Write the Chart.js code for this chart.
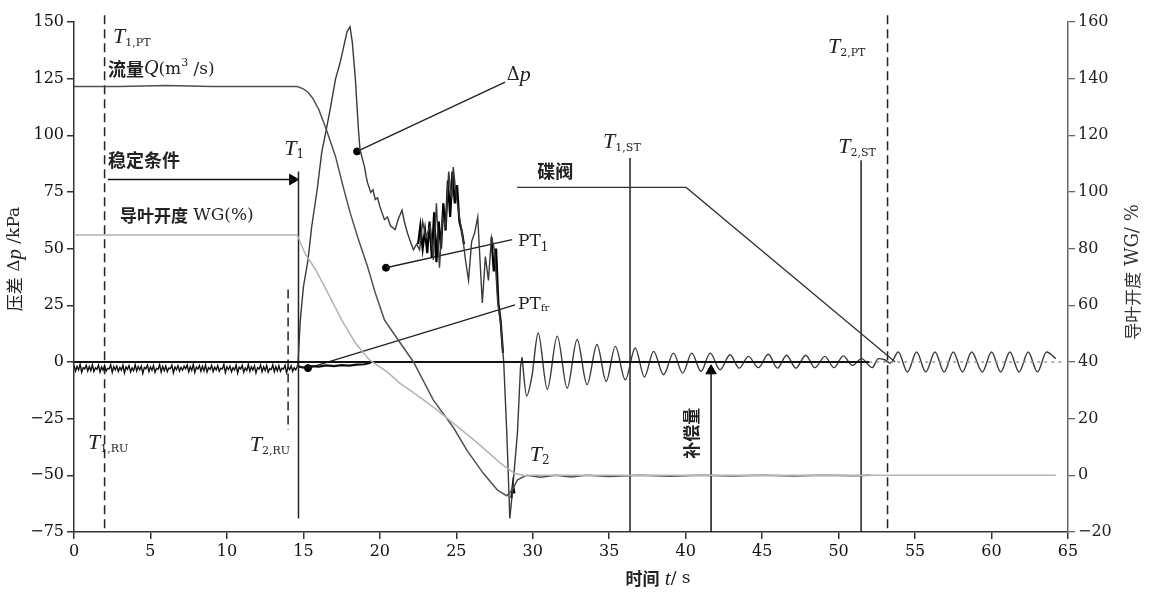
<!DOCTYPE html>
<html><head><meta charset="utf-8">
<style>html,body{margin:0;padding:0;background:#fff}#wrap{width:1153px;height:593px}</style>
</head><body><div id="wrap"><canvas id="c" width="1153" height="593"></canvas></div>
<script src="https://cdn.jsdelivr.net/npm/chart.js@4/dist/chart.umd.min.js"></script>
<script>
// ---------------- data ----------------
// Flow Q (drawn on left scale units)
const qT = [0,3,6,9,12,14.6,15.0,15.3,15.6,16.0,16.5,17.1,17.6,18.05,18.6,19.2,19.7,20.3,21.2,22.2,23.5,24.8,25.7,26.75,27.7,28.3,28.7,29.0,29.6,30.5,31.5,32.5,33.5,35,37,39,41,43,45,47,49,51,52.1];
const qV = [121.5,121.5,122,121.5,121.5,121.5,120.5,119,116.5,111.5,102.6,90.7,77.4,66,54,42,30.5,18.6,9.7,0,-16.8,-28.8,-39,-49,-56.6,-59,-56,-52,-50,-50.8,-50,-50.7,-50,-50.5,-50,-50.4,-50,-50.3,-50,-50.3,-50,-50.2,-50];
// Guide vane opening WG
const wgT = [0,5,10,14.6,15.1,15.8,16.6,17.5,18.4,19.3,20.5,21.3,22.2,23.5,24.8,26.4,27.9,28.8,29.5,30,35,40,45,50,55,60,64.2];
const wgV = [56,56,56,56,48,40.7,30.5,18.6,8.4,1,-4.5,-9.3,-13.5,-19.9,-27,-35.8,-44.7,-49.1,-50.2,-50,-50,-50,-50,-50,-50,-50,-50];
// Delta p, transient part
const dpT1 = [14.6,14.65,14.8,15.0,15.3,15.55,15.9,16.2,16.5,16.75,17.1,17.4,17.85,18.05,18.2,18.4,18.6,18.7,19.0,19.1,19.2,19.4,19.55,19.7,19.85,20.0,20.3,20.5,20.7,21.0,21.2,21.45,21.6,21.8,22.0,22.2,22.4,22.6,22.8,23.0,23.3,23.5,23.7,23.9,24.1,24.3,24.5,24.7,24.8,25.0,25.2,25.4,25.6,25.8,26.0,26.2,26.4,26.55,26.7,26.9,27.1,27.3,27.5,27.7,27.9,28.1,28.3,28.5,28.7,29.0,29.2,29.3];
const dpV1 = [-2,0,18.6,33,45,60,76,92.5,102.6,111.5,124.8,132,145.6,148,141,124.8,102.6,93.8,86,82,79,74.8,76,71.7,72.5,68.6,62.8,64,60,58.4,63,67,62,57,53,49.5,52,49.5,62,55,60,45,70,41.6,64,60,84,72,86,73,64,56,45,36,53,57,64,45,26,46.5,36,55,49.5,27,17,0,-31,-69,-55,-31,-2,2];
// Delta p, oscillation part
const dpT2 = [29.3,29.6,29.95,30.35,30.95,31.6,32.25,32.9,33.55,34.2,34.8,35.4,36.05,36.7,37.3,37.9,38.55,39.2,39.8,40.4,41.0,41.6,42.25,42.9,43.5,44.1,44.75,45.4,46.0,46.6,47.2,47.85,48.45,49.1,49.7,50.3,50.9,51.5,52.2,52.6,53.0,53.4,53.9,54.5,55.1,55.7,56.3,56.9,57.5,58.1,58.7,59.4,60.0,60.6,61.2,61.8,62.4,63.0,63.6,64.2];
const dpV2 = [2,-15,-6,12.8,-12,11.4,-11.5,9.9,-10,7.7,-8.5,6.9,-7.8,6.2,-6.6,4.7,-5.6,3.9,-4.9,3.9,-4.1,3.9,-3.4,3.2,-2.7,2.5,-2.5,3.4,-2.7,3.0,-2.7,3.0,-2.5,2.5,-2.5,2.7,-1.5,1.5,-2.5,1.5,1.0,-0.5,4.4,-4.4,4.4,-4.4,4.4,-4.4,4.4,-4.4,4.4,-4.4,4.4,-4.4,4.4,-4.4,4.4,-4.4,4.4,1.5];
// steady-state noise band (PT_fr) before the transient, sampled every 0.1 s from t=0
const noiseStep = 0.1;
const noiseV = [-1.5,-4,-2,-3.5,-1,-4.5,-2.5,-3,-1.5,-4,-2,-3.8,-1.2,-4.2,-2.6,-3.2,-1.4,-4.4,-2.2,-3.6,-1.6,-4,-2.8,-3,-1.2,-4.6,-2,-3.4,-1.8,-4.2,-2.4,-3.6,-1.4,-4.8,-2.2,-3.2,-1.6,-4.4,-2.6,-3.8,-1.2,-4,-2,-3.4,-1.8,-5,-2.4,-3,-1.4,-4.2,-2.2,-3.6,-1.6,-4.6,-2.8,-3.2,-1.2,-4.4,-2,-3.8,-1.8,-4.2,-2.6,-3,-1.4,-4.8,-2.2,-3.4,-1.6,-4,-2.4,-3.6,-1.8,-3,
  -1.3,-4.3,-2.1,-3.7,-1.1,-4.6,-2.3,-3.1,-1.6,-4.1,-1.9,-3.9,-1.3,-4.4,-2.5,-3.3,-1.5,-4.2,-2.3,-3.5,-1.7,-4.1,-2.7,-3.1,-1.1,-4.7,-2.1,-3.3,-1.9,-4.3,-2.5,-3.5,-1.3,-4.9,-2.3,-3.1,-1.5,-4.5,-2.7,-3.7,-1.1,-4.1,-2.1,-3.5,-1.7,-4.8,-2.5,-3.1,-1.3,-4.3,-2.1,-3.7,-1.5,-4.5,-2.9,-3.3,-1.3,-4.3,-2.1,-3.9,-1.7,-4.1,-2.7,-3.1,-1.5,-4.7,-2.3,-3.3,-1.7,-4.1,-2.5,-3.5,-2];
const ptfrT = [14.7,15.0,15.5,16.0,16.5,17.0,17.5,18.0,18.5,19.0,19.4];
const ptfrV = [-2,-2.5,-1.8,-2,-1.5,-1.8,-1.4,-1.6,-1.2,-1,-0.3];
// PT1 (black overlay)
const pt1T = [22.5,22.65,22.8,22.95,23.1,23.25,23.4,23.55,23.7,23.85,24.0,24.15,24.3,24.45,24.6,24.75,24.9,25.05,25.2,25.35,25.5,null,27.3,27.45,27.6,27.75,27.9,28.05,null,28.6,28.7,28.8];
const pt1V = [52,60,50,58,48,62,46,66,44,62,50,70,58,80,64,84,70,78,62,58,52,null,55,40,50,26,18,4,null,-60,-54,-58];
// zero reference
const zeroT = [0,52];
const zeroV = [0,0];
const zeroDotT = [52,64.8];
const zeroDotV = [0,0];
// butterfly valve leader
const valveT = [28.97,40.03,53.7];
const valveV = [77,77,0];
// event markers (time, top value, bottom value)
const dashedT = [2.0,14.0,53.2];
const dashedTop = [153,32,153];
const dashedBot = [-75,-30,-75];
const solidT = [14.68,36.36,51.47];
const solidTop = [84,90,89];
const solidBot = [-69,-75,-75];
// leaders: dot -> label
const leadT0 = [18.51,20.4,15.3];
const leadV0 = [92.9,41.6,-2.7];
const leadT1 = [28.19,28.65,28.84];
const leadV1 = [123.5,54,25.2];
// arrows
const stableT = [2.22,14.6];
const stableV = [80.5,80.5];
const compT = [41.66,41.66];
const compV = [-75,-1.5];

const yTicksLeft = {min:-75,max:150,step:25};
const yTicksRight = {min:-20,max:160,step:20};
const xTicks = {min:0,max:65,step:5};

// --------------- build ----------------
const P = (ts,vs)=>ts.map((t,i)=>({x:t,y:vs[i]}));
const line = (data,color,w,extra)=>Object.assign({type:'line',data,borderColor:color,borderWidth:w,pointRadius:0,fill:false,tension:0,spanGaps:false},extra||{});
const datasets = [];
datasets.push(line(P(wgT,wgV),'#b4b4b4',1.5));
datasets.push(line(P(qT,qV),'#505050',1.5));
datasets.push(line(P(zeroT,zeroV),'#111',1.8));
datasets.push(line(P(zeroDotT,zeroDotV),'#999',1.3,{borderDash:[3,4]}));
datasets.push(line(noiseV.map((v,i)=>({x:+(i*noiseStep).toFixed(2),y:v})),'#111',1.4));
datasets.push(line(P(ptfrT,ptfrV),'#111',2.2));
datasets.push(line(P(dpT1,dpV1),'#3a3a3a',1.4));
datasets.push(line(P(dpT2,dpV2),'#3a3a3a',1.4,{cubicInterpolationMode:'monotone'}));
datasets.push(line(P(pt1T,pt1V),'#000',2.2));
datasets.push(line(P(valveT,valveV),'#333',1.3));
dashedT.forEach((t,i)=>datasets.push(line([{x:t,y:dashedTop[i]},{x:t,y:dashedBot[i]}],'#222',1.5,{borderDash:[9,5],clip:false})));
solidT.forEach((t,i)=>datasets.push(line([{x:t,y:solidTop[i]},{x:t,y:solidBot[i]}],'#222',1.5)));
leadT0.forEach((t,i)=>datasets.push(line([{x:t,y:leadV0[i]},{x:leadT1[i],y:leadV1[i]}],'#222',1.4)));
datasets.push({type:'scatter',data:P(leadT0,leadV0),pointRadius:3.5,backgroundColor:'#000',borderColor:'#000',showLine:false});
datasets.push(line(P(stableT,stableV),'#111',1.5));
datasets.push(line(P(compT,compV),'#111',1.5));
datasets.push({type:'scatter',data:[{x:stableT[1]-0.3,y:stableV[1]}],pointStyle:'triangle',rotation:90,pointRadius:6,backgroundColor:'#000',borderColor:'#000',showLine:false});
datasets.push({type:'scatter',data:[{x:compT[1],y:compV[1]-2.4}],pointStyle:'triangle',rotation:0,pointRadius:6,backgroundColor:'#000',borderColor:'#000',showLine:false});

const SERIF = '"DejaVu Serif"';
const TSERIF = '"Liberation Serif"';
const CJK = '"Noto Sans CJK SC"';
const fmt = v => v<0 ? '\u2212'+Math.abs(v) : String(v);

const it = (s,sz)=>({t:s,f:'italic '+(sz||22)+'px '+TSERIF});
const sub = (s,sz)=>({t:s,f:(sz||12)+'px '+SERIF,dy:6});
const cj = (s,sz)=>({t:s,f:'bold '+(sz||18)+'px '+CJK});
const cr = (s,sz)=>({t:s,f:(sz||16)+'px '+CJK});
const rm = (s,sz)=>({t:s,f:(sz||18)+'px '+SERIF});
const notes = [
  {p:[it('T'),sub('1,PT',11)], t:2.55, v:143.4},
  {p:[cj('流量'),it('Q',20),rm('(m',17),{t:'3',f:'11px '+SERIF,dy:-6},rm(' /s)',17)], t:2.22, v:129.2},
  {p:[cj('稳定条件')], t:2.22, v:89},
  {p:[cj('导叶开度',17),rm(' WG(%)',17)], t:3.0, v:64.6},
  {p:[it('T'),sub('1')], t:13.75, v:94},
  {p:[rm('\u0394',18),it('p',22)], t:28.3, v:126.5},
  {p:[rm('PT',17),sub('1',12)], t:29.04, v:53},
  {p:[rm('PT',17),{t:'fr',f:'10px '+SERIF,dy:4}], t:29.04, v:25.2},
  {p:[cj('碟阀')], t:30.3, v:84},
  {p:[it('T'),sub('1,ST',11)], t:34.6, v:96.9},
  {p:[it('T'),sub('2,ST',11)], t:49.97, v:94.7},
  {p:[it('T'),sub('2,PT',11)], t:49.3, v:139},
  {p:[it('T'),sub('1,RU',11)], t:0.92, v:-35.8},
  {p:[it('T'),sub('2,RU',11)], t:11.5, v:-36.7},
  {p:[it('T'),sub('2')], t:29.8, v:-41},
  {p:[cj('补偿量',17)], t:40.4, v:-31.4, center:true, rot:-Math.PI/2}
];

function widthOf(ctx,parts){let w=0;parts.forEach(p=>{ctx.font=p.f;w+=ctx.measureText(p.t).width;});return w;}
function drawRich(ctx,parts,x,y,center,color){
  ctx.save();ctx.fillStyle=color||'#222';ctx.textBaseline='middle';ctx.textAlign='left';
  let cx = center ? x-widthOf(ctx,parts)/2 : x;
  parts.forEach(p=>{ctx.font=p.f;ctx.fillText(p.t,cx,y+(p.dy||0));cx+=ctx.measureText(p.t).width;});
  ctx.restore();
}

const textPlugin = {
  id:'texts',
  afterDatasetsDraw(chart){
    const ctx=chart.ctx, xs=chart.scales.x, ys=chart.scales.y, a=chart.chartArea;
    notes.forEach(n=>{
      const px=xs.getPixelForValue(n.t), py=ys.getPixelForValue(n.v);
      if(n.rot){ctx.save();ctx.translate(px,py);ctx.rotate(n.rot);drawRich(ctx,n.p,0,0,true);ctx.restore();}
      else drawRich(ctx,n.p,px,py,!!n.center);
    });
    // axis titles
    ctx.save();ctx.translate(a.left-59,(a.top+a.bottom)/2-18);ctx.rotate(-Math.PI/2);
    drawRich(ctx,[cr('压差',17),rm(' \u0394',17),it('p',21),rm(' /kPa',17)],0,0,true,'#222');ctx.restore();
    ctx.save();ctx.translate(a.right+65,(a.top+a.bottom)/2-5);ctx.rotate(-Math.PI/2);
    drawRich(ctx,[cr('导叶开度',17),rm(' WG/ %',18)],0,0,true,'#333');ctx.restore();
    drawRich(ctx,[cj('时间',17),rm(' ',17),it('t',21),rm('/ s',17)],(a.left+a.right)/2+87,a.bottom+47,true,'#222');
  }
};

const gridOpts = {drawOnChartArea:false,tickLength:7,color:'#333',lineWidth:1.5};
new Chart(document.getElementById('c'),{
  type:'line',
  data:{datasets},
  options:{
    responsive:false,animation:false,
    layout:{padding:{top:22,left:0,right:0,bottom:0}},
    plugins:{legend:{display:false},tooltip:{enabled:false}},
    scales:{
      x:{type:'linear',min:xTicks.min,max:xTicks.max,
         ticks:{stepSize:xTicks.step,color:'#111',font:{family:'DejaVu Serif',size:16},padding:3,maxRotation:0,autoSkip:false,callback:fmt},
         grid:gridOpts,border:{color:'#333',width:1.5},
         afterFit:s=>{s.height=61;}},
      y:{position:'left',min:yTicksLeft.min,max:yTicksLeft.max,
         ticks:{stepSize:yTicksLeft.step,color:'#111',font:{family:'DejaVu Serif',size:16},padding:3,callback:fmt},
         grid:gridOpts,border:{color:'#333',width:1.5},
         afterFit:s=>{s.width=74;}},
      y1:{position:'right',min:yTicksRight.min,max:yTicksRight.max,
         ticks:{stepSize:yTicksRight.step,color:'#222',font:{family:'DejaVu Serif',size:16},padding:3,callback:fmt},
         grid:{drawOnChartArea:false,tickLength:7,color:'#666',lineWidth:1.3},border:{color:'#666',width:1.5},
         afterFit:s=>{s.width=85;}}
    }
  },
  plugins:[textPlugin]
});
</script>
</body></html>
